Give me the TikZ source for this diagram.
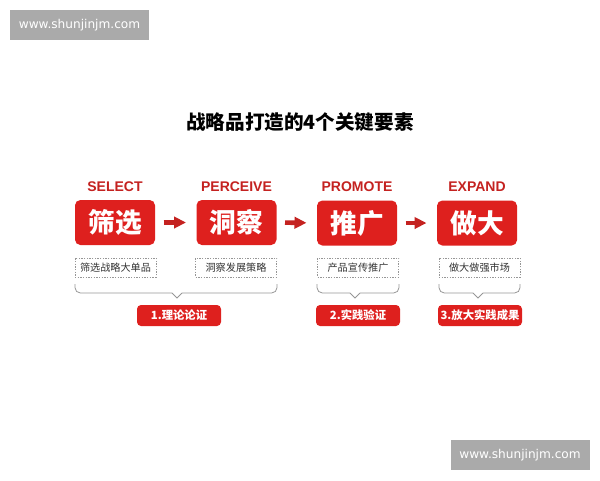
\documentclass[tikz,border=0pt]{standalone}
\usepackage{fontspec}
\setmainfont{Liberation Sans}
\newfontfamily\cjk{Noto Sans CJK SC}
\newfontfamily\wmfont{DejaVu Sans}
\usetikzlibrary{arrows.meta}
\definecolor{boxred}{RGB}{222,32,30}
\definecolor{labelred}{RGB}{196,34,32}
\definecolor{linegrey}{RGB}{150,150,150}
\definecolor{wmgrey}{RGB}{170,170,170}
\tikzset{every picture/.style={line width=0.75pt}}

\begin{document}
\begin{tikzpicture}[x=0.75pt,y=0.75pt,yscale=-1,xscale=1,
  redbox/.style={fill=boxred, rounded corners=4pt, minimum width=60pt, minimum height=33.75pt, inner sep=0pt, text=white, font=\cjk\bfseries\fontsize{20}{20}\selectfont},
  steplabel/.style={text=labelred, font=\bfseries\fontsize{10.5}{12}\selectfont},
  notebox/.style={draw=linegrey, dash pattern=on 1pt off 1pt, minimum width=60.75pt, minimum height=14.25pt, inner sep=0pt, text=black!80, font=\cjk\fontsize{7.6}{8}\selectfont},
  resultbox/.style={fill=boxred, rounded corners=3pt, minimum width=63pt, minimum height=15.75pt, inner sep=0pt, text=white, font=\cjk\bfseries\fontsize{8.5}{9}\selectfont},
  redarrow/.style={draw=labelred, line width=3.4pt, -{Triangle[length=9pt,width=8.5pt]}, shorten <=6pt, shorten >=7.5pt},
  bracket/.style={draw=linegrey, line width=0.6pt, rounded corners=4pt},
  watermark/.style={fill=wmgrey, minimum width=104.25pt, minimum height=22.5pt, inner sep=0pt, text=white, font=\wmfont\fontsize{9.1}{10}\selectfont}]
\useasboundingbox (0,0) rectangle (600,480);

% Watermarks
\node [watermark] (wm1) at (79.5,25) {www.shunjinjm.com};
\node [watermark] (wm2) at (520,455) {www.shunjinjm.com};

% Title
\node [font=\cjk\bfseries\fontsize{14.7}{15}\selectfont] (title) at (300,122) {战略品打造的4个关键要素};

% Step labels
\node [steplabel] (l1) at (115,187) {SELECT};
\node [steplabel] (l2) at (236.5,187) {PERCEIVE};
\node [steplabel] (l3) at (357,187) {PROMOTE};
\node [steplabel] (l4) at (477,187) {EXPAND};

% Step boxes
\node [redbox] (b1) at (115,222.5) {筛选};
\node [redbox] (b2) at (236.5,222.5) {洞察};
\node [redbox] (b3) at (357,223) {推广};
\node [redbox] (b4) at (477,223) {做大};

% Arrows
\draw [redarrow] (b1) -- (b2);
\draw [redarrow] (b2) -- (b3);
\draw [redarrow] (b3) -- (b4);

% Notes
\node [notebox] (n1) at (115.5,267.5) {筛选战略大单品};
\node [notebox] (n2) at (236,267.5) {洞察发展策略};
\node [notebox] (n3) at (358,267.5) {产品宣传推广};
\node [notebox] (n4) at (479.5,267.5) {做大做强市场};

% Brackets
\draw [bracket] (75,284) -- (75,293) -- (172,293);
\draw [draw=linegrey, line width=0.6pt] (172,293) -- (177,298) -- (182,293);
\draw [bracket] (182,293) -- (277,293) -- (277,284);

\draw [bracket] (317,284) -- (317,293) -- (350,293);
\draw [draw=linegrey, line width=0.6pt] (350,293) -- (355,298) -- (360,293);
\draw [bracket] (360,293) -- (399,293) -- (399,284);

\draw [bracket] (439,284) -- (439,293) -- (473,293);
\draw [draw=linegrey, line width=0.6pt] (473,293) -- (478,298) -- (483,293);
\draw [bracket] (483,293) -- (520,293) -- (520,284);

% Results
\node [resultbox] (r1) at (179,315.5) {1.理论论证};
\node [resultbox] (r2) at (358,315.5) {2.实践验证};
\node [resultbox] (r3) at (480,315.5) {3.放大实践成果};

\end{tikzpicture}
\end{document}
